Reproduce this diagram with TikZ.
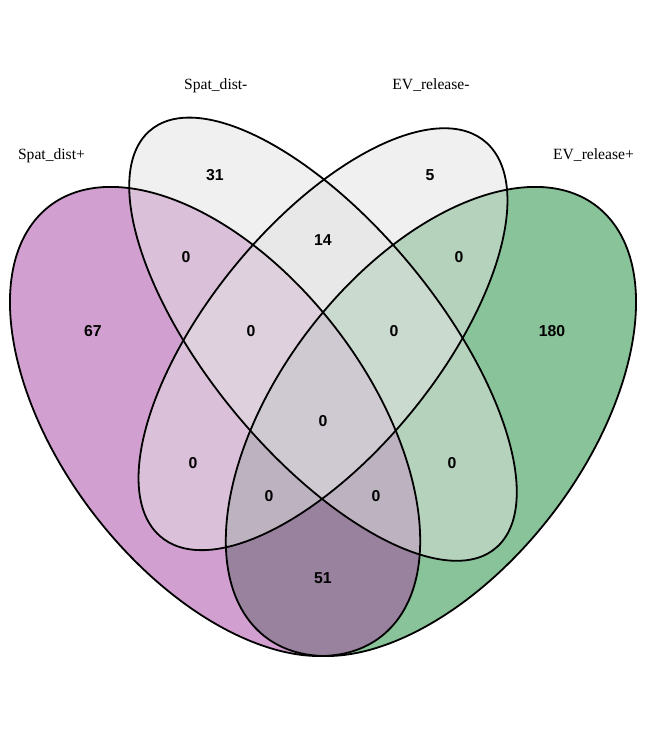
\documentclass[tikz,border=0pt]{standalone}
\usepackage{fontspec}
\setmainfont{Liberation Serif}
\newfontfamily\numfont{Liberation Sans}
\definecolor{setpurple}{RGB}{167,67,163}
\definecolor{setgreen}{RGB}{21,137,53}
\definecolor{setgray}{RGB}{226,226,226}
\tikzset{
  vennfill/.style={fill opacity=0.5, draw=none},
  vennline/.style={draw=black, line width=1.8pt, fill=none},
  count/.style={font=\numfont\bfseries\fontsize{15.8}{18}\selectfont, inner sep=0pt, anchor=center},
  catname/.style={font=\fontsize{15.6}{18}\selectfont, inner sep=0pt, anchor=base},
}
\begin{document}
\begin{tikzpicture}[x=1pt,y=1pt]
\useasboundingbox (0,0) rectangle (646,740);
\fill[white] (0,0) rectangle (646,740);
% ellipses: shift to center, stretch npc axes, then rotate
\fill[vennfill, fill=setgreen, shift={(430.925,318.516)}, xscale=719.5, yscale=822.8, rotate=45] (0,0) ellipse (0.35 and 0.20);
\fill[vennfill, fill=setpurple, shift={(215.075,318.516)}, xscale=719.5, yscale=822.8, rotate=135] (0,0) ellipse (0.35 and 0.20);
\fill[vennfill, fill=setgray, shift={(323,400.796)}, xscale=719.5, yscale=822.8, rotate=45] (0,0) ellipse (0.33 and 0.15);
\fill[vennfill, fill=setgray, shift={(323,400.796)}, xscale=719.5, yscale=822.8, rotate=135] (0,0) ellipse (0.35 and 0.15);
\draw[vennline, shift={(430.925,318.516)}, xscale=719.5, yscale=822.8, rotate=45] (0,0) ellipse (0.35 and 0.20);
\draw[vennline, shift={(215.075,318.516)}, xscale=719.5, yscale=822.8, rotate=135] (0,0) ellipse (0.35 and 0.20);
\draw[vennline, shift={(323,400.796)}, xscale=719.5, yscale=822.8, rotate=45] (0,0) ellipse (0.33 and 0.15);
\draw[vennline, shift={(323,400.796)}, xscale=719.5, yscale=822.8, rotate=135] (0,0) ellipse (0.35 and 0.15);
% counts
\node[count] (n31) at (215,565) {31};
\node[count] (n14) at (323,500) {14};
\node[count] (n5) at (430,565) {5};
\node[count] (nA) at (186,482.5) {0};
\node[count] (nB) at (459,482.5) {0};
\node[count] (n67) at (93,409) {67};
\node[count] (nC) at (251,409) {0};
\node[count] (nD) at (394,409) {0};
\node[count] (n180) at (552,409) {180};
\node[count] (nE) at (323,319) {0};
\node[count] (nF) at (193,277) {0};
\node[count] (nG) at (452,277) {0};
\node[count] (nH) at (269,244) {0};
\node[count] (nI) at (376,244) {0};
\node[count] (n51) at (323,162) {51};
% category names
\node[catname] (c1) at (51.5,580.7) {Spat\_dist+};
\node[catname] (c2) at (215.8,650.7) {Spat\_dist-};
\node[catname] (c3) at (431,650.7) {EV\_release-};
\node[catname] (c4) at (593.5,580.7) {EV\_release+};
\end{tikzpicture}
\end{document}
